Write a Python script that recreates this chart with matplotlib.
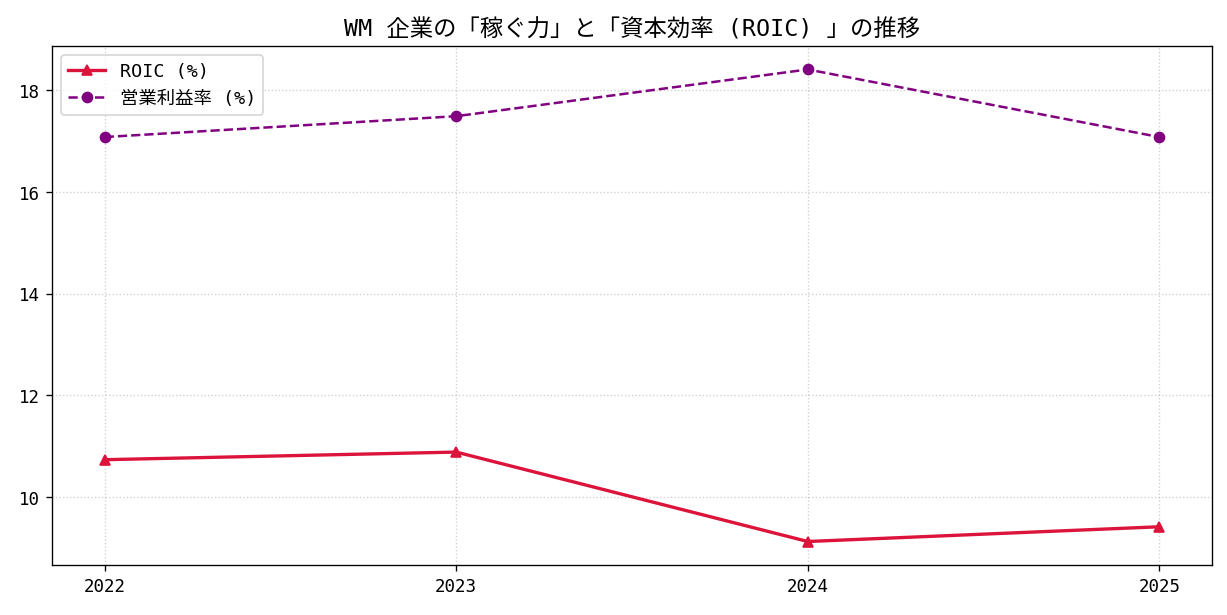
import matplotlib

matplotlib.use("Agg")
import matplotlib.pyplot as plt

plt.rcParams["font.family"] = ["DejaVu Sans Mono", "Noto Sans CJK JP"]

years = [2022, 2023, 2024, 2025]
roic = [10.73, 10.88, 9.12, 9.41]
op_margin = [17.08, 17.49, 18.41, 17.08]

fig, ax = plt.subplots(figsize=(10.233, 5.133), dpi=120)

ax.plot(years, roic, marker="^", color="crimson", linewidth=2, label="ROIC (%)")
ax.plot(years, op_margin, marker="o", linestyle="--", color="purple", label="営業利益率 (%)")

ax.set_title("WM 企業の「稼ぐ力」と「資本効率 (ROIC) 」の推移", fontsize=14)
ax.set_xticks(years)
ax.tick_params(labelsize=10.5)
ax.grid(True, linestyle=":", alpha=0.6)
ax.legend(loc="upper left", fontsize=11)

fig.subplots_adjust(left=0.0423, right=0.987, top=0.924, bottom=0.081)
plt.savefig("out.png", dpi=120)
